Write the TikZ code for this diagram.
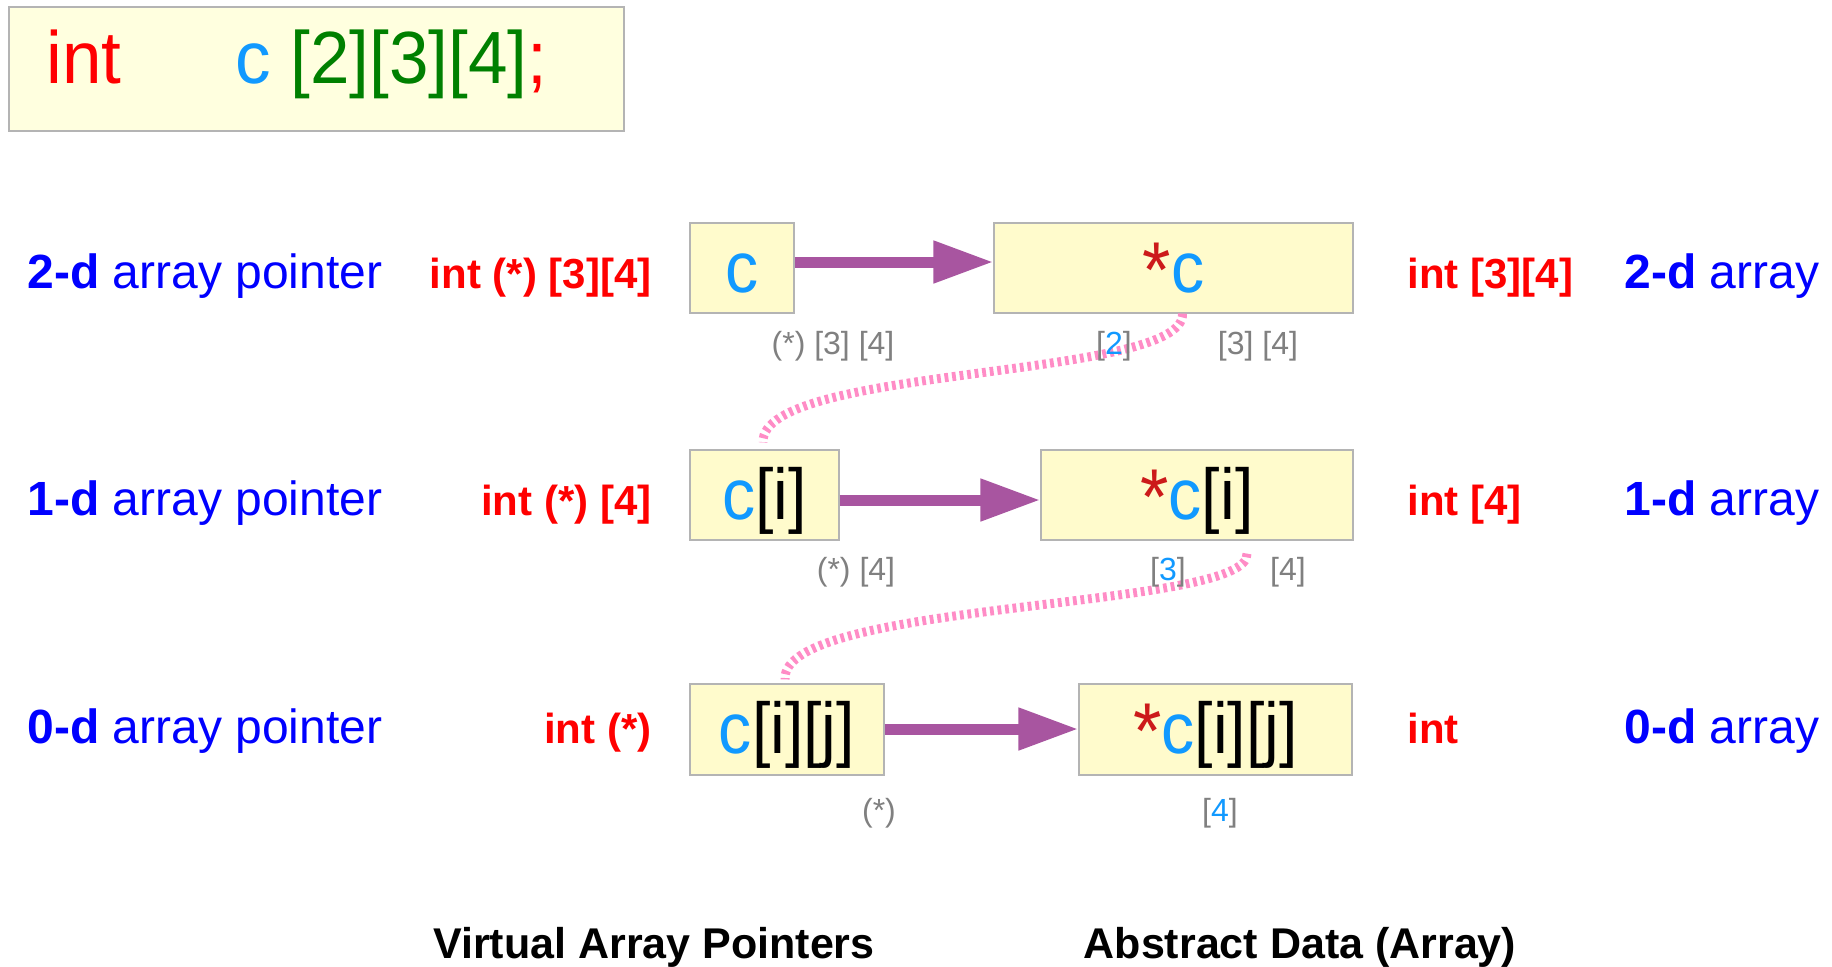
\documentclass[tikz,border=0pt]{standalone}
\usepackage{fontspec}
\setmainfont{Liberation Sans}
\newfontfamily\boxfamily[FakeStretch=0.92]{Liberation Sans}
\newfontfamily\topfamily[FakeStretch=0.96]{Liberation Sans}
\usetikzlibrary{arrows.meta}
\definecolor{boxfill}{HTML}{FFFBCC}
\definecolor{topfill}{HTML}{FFFFDF}
\definecolor{boxline}{HTML}{B4B4B4}
\definecolor{cblue}{HTML}{1199FF}
\definecolor{lblue}{HTML}{0000FF}
\definecolor{lred}{HTML}{FF0000}
\definecolor{astred}{HTML}{CC1A1A}
\definecolor{cgreen}{HTML}{008000}
\definecolor{gtxt}{HTML}{808080}
\definecolor{arrowc}{HTML}{A855A0}
\definecolor{pinkc}{HTML}{FF8CC6}
\newcommand\boxfont{\boxfamily\fontsize{36}{40}\selectfont}
\newcommand\topfont{\topfamily\fontsize{37}{40}\selectfont}
\newcommand\redstar{\raisebox{-2.5pt}{\scalebox{1.1}{\textcolor{astred}{*}}}}
\newcommand\cc{\textcolor{cblue}{c}}
\newcommand\gb[1]{[\textcolor{cblue}{#1}]}
\tikzset{
  box/.style={draw=boxline, fill=boxfill, line width=0.6pt, inner sep=0pt,
    minimum height=45pt, text height=30pt, text depth=6pt, font=\boxfont},
  dimlbl/.style={anchor=base, font=\fontsize{16}{18}\selectfont, text=gtxt, inner sep=0pt},
  desc/.style={anchor=base west, font=\fontsize{24}{28}\selectfont, text=lblue, inner sep=0pt},
  typ/.style={font=\bfseries\fontsize{21}{24}\selectfont, text=lred, inner sep=0pt},
  ptr/.style={line width=5.5pt, draw=arrowc, -{Triangle[length=30pt,width=20pt]}},
  link/.style={draw=pinkc, line width=4.5pt, dash pattern=on 1.9pt off 1.9pt},
  title/.style={anchor=base, font=\bfseries\fontsize{21.5}{24}\selectfont, inner sep=0pt},
}
\begin{document}
\begin{tikzpicture}[x=0.5pt,y=-0.5pt]
\useasboundingbox (0,0) rectangle (1832,966);
% declaration box
\node[draw=boxline, fill=topfill, line width=0.6pt, minimum width=307.5pt, minimum height=62pt, inner sep=0pt] (decl) at (316.5,69) {};
\node[anchor=base west, inner sep=0pt, font=\topfont, text=lred] (declint) at (46,83) {int};
\node[anchor=base west, inner sep=0pt, font=\topfont] (declc) at (235,83) {\textcolor{cblue}{c} \textcolor{cgreen}{[2][3][4]}\textcolor{lred}{;}};
% boxes
\node[box, minimum width=52pt] (A1) at (742,268) {\cc};
\node[box, minimum width=179.5pt] (B1) at (1173.5,268) {\redstar\cc};
\node[box, minimum width=74.5pt] (A2) at (764.5,495) {\cc[i]};
\node[box, minimum width=156pt] (B2) at (1197,495) {\redstar\cc[i]};
\node[box, minimum width=97pt, minimum height=45.5pt] (A3) at (787,729.5) {\cc[i][j]};
\node[box, minimum width=136.5pt, minimum height=45.5pt] (B3) at (1215.5,729.5) {\redstar\cc[i][j]};
% pink links
\draw[link] ([xshift=4.5pt]B1.south) .. controls (1186,380) and (760,365) .. ([xshift=-0.75pt,yshift=3.5pt]A2.north);
\draw[link] ([xshift=25pt,yshift=-6.5pt]B2.south) .. controls (1252,610) and (780,600) .. ([xshift=-1pt,yshift=2pt]A3.north);
% arrows
\draw[ptr] ([yshift=3pt]A1.east) -- ([yshift=3pt]B1.west);
\draw[ptr] ([yshift=-2.5pt]A2.east) -- ([yshift=-2.5pt]B2.west);
\draw[ptr] ([yshift=0.25pt]A3.east) -- ([yshift=0.25pt]B3.west);
% dimension labels
\node[dimlbl] (d1a) at (833,354) {(*) [3] [4]};
\node[dimlbl] (d1b) at (1114,354) {\gb{2}};
\node[dimlbl] (d1c) at (1258,354) {[3] [4]};
\node[dimlbl] (d2a) at (856,580) {(*) [4]};
\node[dimlbl] (d2b) at (1168,580) {\gb{3}};
\node[dimlbl] (d2c) at (1288,580) {[4]};
\node[dimlbl] (d3a) at (879,821) {(*)};
\node[dimlbl] (d3b) at (1220,821) {\gb{4}};
% left descriptions
\node[desc] (l1) at (27,288) {\textbf{2-d} array pointer};
\node[desc] (l2) at (27,515) {\textbf{1-d} array pointer};
\node[desc] (l3) at (27,743) {\textbf{0-d} array pointer};
\node[typ, anchor=base east] (t1) at (652,288) {int (*) [3][4]};
\node[typ, anchor=base east] (t2) at (652,515) {int (*) [4]};
\node[typ, anchor=base east] (t3) at (652,743) {int (*)};
% right descriptions
\node[typ, anchor=base west] (r1) at (1407,288) {int [3][4]};
\node[typ, anchor=base west] (r2) at (1407,515) {int [4]};
\node[typ, anchor=base west] (r3) at (1407,743) {int};
\node[desc] (s1) at (1624,288) {\textbf{2-d} array};
\node[desc] (s2) at (1624,515) {\textbf{1-d} array};
\node[desc] (s3) at (1624,743) {\textbf{0-d} array};
% titles
\node[title] (vt) at (654,958) {Virtual Array Pointers};
\node[title] (at) at (1300,958) {Abstract Data (Array)};
\end{tikzpicture}
\end{document}
